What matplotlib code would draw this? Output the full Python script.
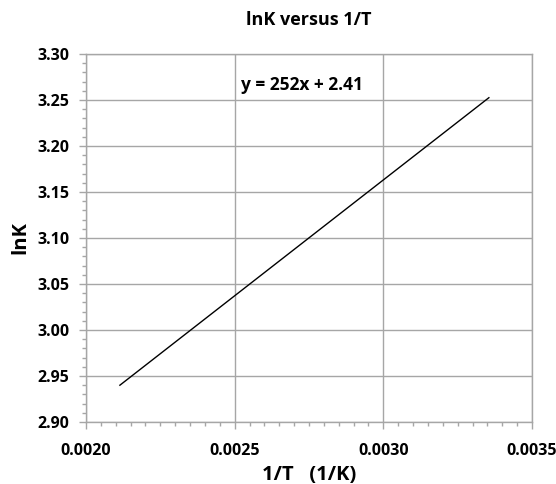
import matplotlib
matplotlib.use("Agg")
import matplotlib.pyplot as plt
from matplotlib.ticker import MultipleLocator, FormatStrFormatter

# Data
inv_T = [0.002114, 0.003355]
lnK = [2.940, 3.2525]
title = "lnK versus 1/T"
xlabel = "1/T   (1/K)"
ylabel = "lnK"
equation = "y = 252x + 2.41"

plt.rcParams['font.family'] = ['Open Sans', 'DejaVu Sans']
plt.rcParams['font.weight'] = 'bold'

fig = plt.figure(figsize=(5.56, 4.84), dpi=100)
ax = fig.add_axes([86/556, 1-422/484, (532-86)/556, (422-54)/484])

grid_c = '#A6A6A6'
ax.plot(inv_T, lnK, color='black', lw=1.0)
ax.set_xlim(0.0020, 0.0035)
ax.set_ylim(2.90, 3.30)
ax.xaxis.set_major_locator(MultipleLocator(0.0005))
ax.xaxis.set_minor_locator(MultipleLocator(0.00005))
ax.yaxis.set_major_locator(MultipleLocator(0.05))
ax.yaxis.set_minor_locator(MultipleLocator(0.01))
ax.xaxis.set_major_formatter(FormatStrFormatter('%.4f'))
ax.yaxis.set_major_formatter(FormatStrFormatter('%.2f'))
ax.grid(True, which='major', color=grid_c, lw=1.0)
ax.set_axisbelow(True)
for s in ax.spines.values():
    s.set_color(grid_c)
    s.set_linewidth(1.0)
ax.tick_params(axis='both', which='major', direction='out', length=5, width=1, color=grid_c,
               labelsize=11.5)
ax.tick_params(axis='x', which='major', pad=10)
ax.tick_params(axis='y', which='major', pad=7)
ax.tick_params(axis='both', which='minor', direction='out', length=3, width=1, color=grid_c)
for lab in ax.get_xticklabels() + ax.get_yticklabels():
    lab.set_fontweight('bold')

ax.text(0.002521, 3.266, equation, fontsize=12.5, fontweight='bold', va='center', ha='left')
fig.text(0.5 * (86 + 532) / 556, 1 - 20/484, title, ha='center', va='center', fontsize=13, fontweight='bold')
fig.text(0.5 * (86 + 532) / 556, 1 - 475/484, xlabel, ha='center', va='center', fontsize=14.5, fontweight='bold')
fig.text(20/556, 1 - 238/484, ylabel, ha='center', va='center', rotation=90, fontsize=14.5, fontweight='bold')

fig.savefig("out.png", dpi=100)
